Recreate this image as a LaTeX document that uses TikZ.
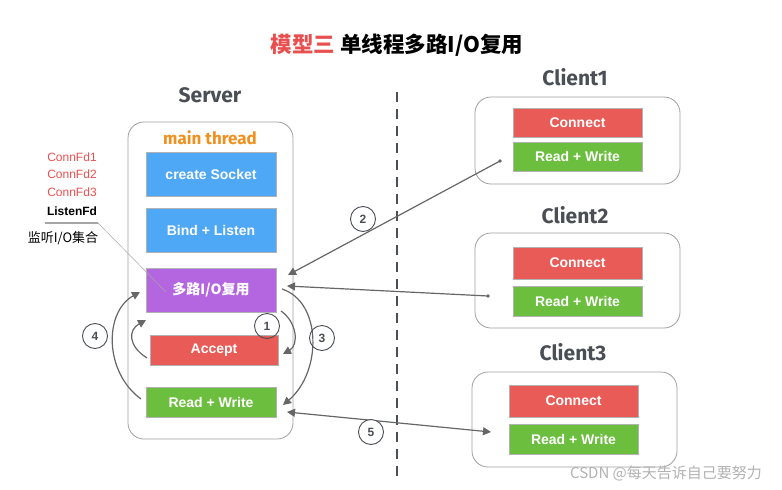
\documentclass[tikz,border=0pt]{standalone}
\usepackage{fontspec}
\setmainfont{Liberation Sans}
\newfontfamily\cjk{Noto Sans CJK SC}
\newfontfamily\hand{Fira Sans}
\usetikzlibrary{arrows.meta}
\definecolor{tred}{HTML}{E8504F}
\definecolor{bred}{HTML}{E95B56}
\definecolor{bgreen}{HTML}{6CBE3F}
\definecolor{bblue}{HTML}{4FA8F6}
\definecolor{bpurple}{HTML}{B366E0}
\definecolor{dgray}{HTML}{4A4E55}
\definecolor{agray}{HTML}{666666}
\definecolor{orng}{HTML}{F0901E}
\tikzset{
  x=1pt,y=-1pt,
  container/.style={draw=gray!75,line width=0.8pt,rounded corners=16pt},
  stepbox/.style={draw=gray!60,line width=0.6pt,text=white,font=\bfseries\fontsize{14}{16}\selectfont,minimum width=130pt,minimum height=44pt,inner sep=0pt},
  smallbox/.style={stepbox,minimum width=129pt,minimum height=30pt},
  heading/.style={text=dgray,font=\hand\bfseries\fontsize{21}{23}\selectfont},
  conn/.style={draw=agray,line width=1.2pt,-{Triangle[length=8pt,width=8pt]}},
  num/.style={circle,draw=dgray,line width=0.9pt,minimum size=25pt,inner sep=0pt,text=dgray,font=\bfseries\fontsize{12}{14}\selectfont},
  fdlab/.style={font=\fontsize{12}{14}\selectfont}
}
\begin{document}
\begin{tikzpicture}
\useasboundingbox (0,0) rectangle (782,490);
% title
\node (title) at (397,45) {\cjk\bfseries\fontsize{21.5}{24}\selectfont\textcolor{tred}{模型三} 单线程多路I/O复用};
% server
\node[heading] (server) at (210,95) {Server};
\draw[container] (128,122) rectangle (293,439);
\node[text=orng,font=\hand\bfseries\fontsize{17}{19}\selectfont] (mt) at (210,138) {main thread};
\node[stepbox,fill=bblue] (cs) at (211,174) {create Socket};
\node[stepbox,fill=bblue] (bl) at (211,230) {Bind + Listen};
\node[stepbox,fill=bpurple] (mux) at (211,290) {\cjk\bfseries 多路I/O复用};
\node[smallbox,fill=bred,minimum width=128pt] (acc) at (214,350) {Accept};
\node[smallbox,fill=bgreen,minimum width=130pt] (rw) at (211,402) {Read + Write};
% fd labels
\node[fdlab,text=tred] (f1) at (72,157) {ConnFd1};
\node[fdlab,text=tred] (f2) at (72,174) {ConnFd2};
\node[fdlab,text=tred] (f3) at (72,192) {ConnFd3};
\node[fdlab,text=black,font=\bfseries\fontsize{12}{14}\selectfont] (lf) at (72,211) {ListenFd};
\node[font=\cjk\fontsize{13}{15}\selectfont] (set) at (63,238) {监听I/O集合};
\coordinate (ul1) at (45,223);
\coordinate (ul2) at (98,223);
\coordinate (inmux) at (166,292);
\draw[gray!70,line width=1.2pt] (ul1) -- (ul2);
\draw[gray!70,line width=0.5pt] (ul2) -- (inmux);
% dashed divider
\coordinate (d1) at (397,92);
\coordinate (d2) at (397,482);
\draw[dgray,line width=1.5pt,dash pattern=on 10pt off 7pt] (d1) -- (d2);
% clients
\node[heading] (cl1) at (575,77) {Client1};
\draw[container] (475,97) rectangle (680,184);
\node[smallbox,fill=bred,minimum height=29pt] (c1c) at (577.5,122.5) {Connect};
\node[smallbox,fill=bgreen,minimum height=29pt] (c1rw) at (577.5,156.5) {Read + Write};
\node[heading] (cl2) at (575,215) {Client2};
\draw[container] (475,233) rectangle (680,328);
\node[smallbox,fill=bred,minimum height=32pt] (c2c) at (577.5,263) {Connect};
\node[smallbox,fill=bgreen] (c2rw) at (577.5,301) {Read + Write};
\node[heading] (cl3) at (573,352) {Client3};
\draw[container] (472,372) rectangle (677,467);
\node[smallbox,fill=bred,minimum height=32pt] (c3c) at (573.5,401) {Connect};
\node[smallbox,fill=bgreen] (c3rw) at (573.5,439) {Read + Write};
% connectors
\coordinate (s1) at (500,161);
\coordinate (e1) at (288,275);
\coordinate (s2) at (488,296);
\coordinate (e2) at (287,286);
\coordinate (s5) at (287,412);
\coordinate (e5) at (491,432);
\fill[agray] (s1) circle (1.8pt);
\fill[agray] (s2) circle (1.8pt);
\draw[conn] (s1) -- (e1);
\draw[conn] (s2) -- (e2);
\draw[conn,{Triangle[length=8pt,width=8pt]}-{Triangle[length=8pt,width=8pt]}] (s5) -- (e5);
\node[num,fill=white] (n2) at (363,219) {2};
\node[num,fill=white] (n5) at (371,432) {5};
% curved arrows
\coordinate (a1s) at (281,311);
\coordinate (a1e) at (283,354);
\draw[conn] (a1s) .. controls (297,322) and (299,345) .. (a1e);
\coordinate (a3s) at (282,289);
\coordinate (a3e) at (283,405);
\draw[conn] (a3s) .. controls (322,302) and (322,372) .. (a3e);
\coordinate (a4s) at (141,399);
\coordinate (a4e) at (140,292);
\draw[conn] (a4s) .. controls (104,372) and (104,312) .. (a4e);
\coordinate (a6s) at (147,358);
\coordinate (a6e) at (146,320);
\draw[conn] (a6s) .. controls (128,346) and (128,330) .. (a6e);
\node[num] (n1) at (267,326) {1};
\node[num] (n3) at (322,338) {3};
\node[num] (n4) at (95,336) {4};
% watermark
\node[text=gray!60,font=\cjk\fontsize{15}{17}\selectfont] (wm) at (666,473) {CSDN @每天告诉自己要努力};
\end{tikzpicture}
\end{document}
